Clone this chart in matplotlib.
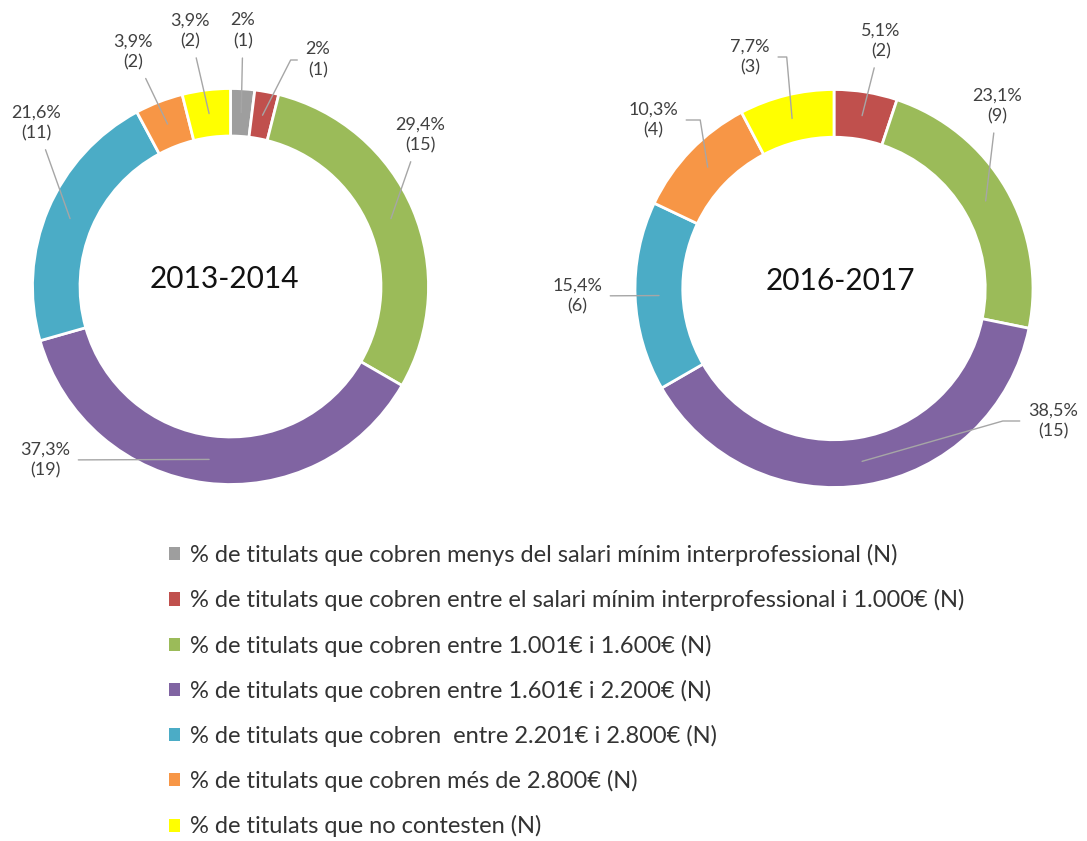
import matplotlib
matplotlib.use("Agg")
import matplotlib.pyplot as plt
from matplotlib.patches import Patch
import numpy as np

# ---------------- data ----------------
categories = [
    "% de titulats que cobren menys del salari mínim interprofessional (N)",
    "% de titulats que cobren entre el salari mínim interprofessional i 1.000€ (N)",
    "% de titulats que cobren entre 1.001€ i 1.600€ (N)",
    "% de titulats que cobren entre 1.601€ i 2.200€ (N)",
    "% de titulats que cobren  entre 2.201€ i 2.800€ (N)",
    "% de titulats que cobren més de 2.800€ (N)",
    "% de titulats que no contesten (N)",
]
periods = ["2013-2014", "2016-2017"]
counts_2013 = [1, 1, 15, 19, 11, 2, 2]
counts_2016 = [0, 2, 9, 15, 6, 4, 3]
colors = ["#9E9E9E", "#C0504D", "#9BBB59", "#8064A2", "#4BACC6", "#F79646", "#FFFF00"]

# ---------------- layout (pixels, image coords from top-left) ----------------
W, H, DPI = 1087, 841, 100
FONT = "Lato"
plt.rcParams["font.family"] = [FONT, "DejaVu Sans"]

charts = [
    dict(counts=counts_2013, center=(230.5, 286.5), R=198, title_pos=(224, 288),
         label_pos=[(243, 31), (318, 60), (420, 135), (45, 460), (36, 123), (133, 52), (190, 31)],
         elbow=[None, 63, None, None, None, None, None]),
    dict(counts=counts_2016, center=(834, 288.5), R=199, title_pos=(840, 290),
         label_pos=[None, (881, 41), (997, 106), (1053, 421), (577, 296), (653, 120), (750, 57)],
         elbow=[None, None, None, 16, None, 99, 95]),
]

RING = 0.24
LABEL_FS = 13
TEXT_COL = "#404040"
LINE_COL = "#A6A6A6"


def fmt_pct(n, total):
    p = round(100.0 * n / total, 1)
    s = f"{p:.1f}".replace(".", ",")
    if s.endswith(",0"):
        s = s[:-2]
    return s + "%"


fig = plt.figure(figsize=(W / DPI, H / DPI), dpi=DPI)
fig.patch.set_facecolor("white")

for period, ch in zip(periods, charts):
    cx, cy = ch["center"]
    R = ch["R"]
    ax = fig.add_axes([(cx - R) / W, (H - cy - R) / H, 2 * R / W, 2 * R / H])
    counts = ch["counts"]
    total = sum(counts)
    wedges, _ = ax.pie(counts, colors=colors, startangle=90, counterclock=False, radius=1,
                       wedgeprops=dict(width=RING, edgecolor="white", linewidth=2))
    ax.set_xlim(-1, 1)
    ax.set_ylim(-1, 1)
    ax.set_aspect("equal")
    ax.axis("off")

    rmid = 1 - RING / 2
    for i, (w, n) in enumerate(zip(wedges, counts)):
        if n == 0 or ch["label_pos"][i] is None:
            continue
        ang = np.deg2rad((w.theta1 + w.theta2) / 2)
        xy = (rmid * np.cos(ang), rmid * np.sin(ang))
        px, py = ch["label_pos"][i]
        el = ch["elbow"][i]
        cs = "arc3,rad=0" if el is None else f"angle,angleA=0,angleB={el},rad=0"
        ax.annotate(f"{fmt_pct(n, total)}\n({n})", xy=xy, xycoords="data",
                    xytext=(px, H - py), textcoords="figure pixels",
                    ha="center", va="center", fontsize=LABEL_FS, color=TEXT_COL,
                    linespacing=1.4, annotation_clip=False,
                    arrowprops=dict(arrowstyle="-", color=LINE_COL, lw=1.0,
                                    shrinkA=4, shrinkB=0, connectionstyle=cs))

    tx, ty = ch["title_pos"]
    fig.text(tx / W, (H - ty) / H, period, ha="center", va="baseline",
             fontsize=21.5, color="#111111")

handles = [Patch(facecolor=c, edgecolor="none") for c in colors]
fig.legend(handles, categories, loc="upper left",
           bbox_to_anchor=(169 / W, 1 - 544 / H), bbox_transform=fig.transFigure,
           frameon=False, fontsize=17, labelcolor="#333333",
           handlelength=0.48, handleheight=0.48, handletextpad=0.4,
           labelspacing=0.98, borderpad=0, borderaxespad=0)

fig.savefig("out.png", dpi=DPI, facecolor="white")
